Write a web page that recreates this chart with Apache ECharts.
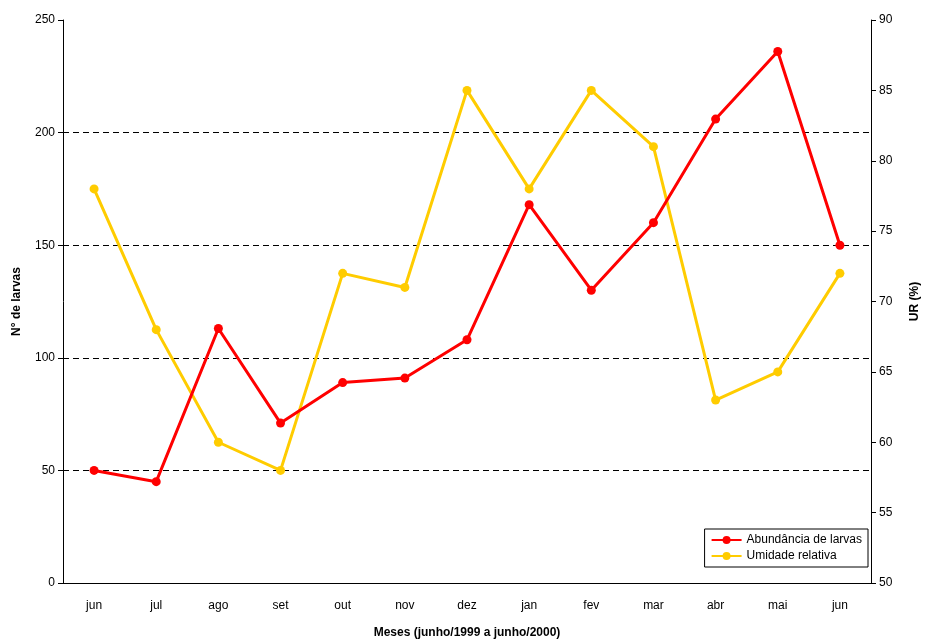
<!DOCTYPE html>
<html><head><meta charset="utf-8">
<script src="https://cdn.jsdelivr.net/npm/echarts@6/dist/echarts.min.js"></script>
<style>html,body{margin:0;padding:0;background:#fff}#c{width:927px;height:641px}</style>
</head><body><div id="c"></div>
<script>
// meses de junho/1999 a junho/2000
var meses = ['jun','jul','ago','set','out','nov','dez','jan','fev','mar','abr','mai','jun'];
var larvas = [50, 45, 113, 71, 89, 91, 108, 168, 130, 160, 206, 236, 150];
var umidade = [78, 68, 60, 58, 72, 71, 85, 78, 85, 81, 63, 65, 72];

var fonte = 'Arial, "Liberation Sans", sans-serif';
var chart = echarts.init(document.getElementById('c'));
chart.setOption({
    animation: false,
    textStyle: {fontFamily: fonte},
    grid: {left: 63, right: 56, top: 20, bottom: 58, outerBoundsMode: 'none'},
    legend: {
        orient: 'vertical', right: 59, bottom: 74, itemGap: 4,
        backgroundColor: '#fff', borderColor: '#000', borderWidth: 1, padding: [5, 6],
        itemWidth: 30, itemHeight: 10,
        textStyle: {fontSize: 12, color: '#000', fontFamily: fonte},
        data: ['Abundância de larvas', 'Umidade relativa']
    },
    xAxis: {
        type: 'category', data: meses, boundaryGap: true,
        name: 'Meses (junho/1999 a junho/2000)', nameLocation: 'middle', nameGap: 44,
        nameTextStyle: {fontWeight: 'bold', fontSize: 12, color: '#000'},
        axisLine: {lineStyle: {color: '#000'}},
        axisTick: {lineStyle: {color: '#000'}, length: 5},
        axisLabel: {color: '#000', fontSize: 12, margin: 17}
    },
    yAxis: [{
        type: 'value', min: 0, max: 250, interval: 50,
        name: 'N° de larvas', nameLocation: 'middle', nameGap: 40, nameRotate: 90,
        nameTextStyle: {fontWeight: 'bold', fontSize: 12, color: '#000'},
        axisLine: {show: true, lineStyle: {color: '#000'}},
        axisTick: {show: true, inside: false, length: 5, lineStyle: {color: '#000'}},
        axisLabel: {color: '#000', fontSize: 12},
        splitLine: {show: true, lineStyle: {color: ['#000', '#000', '#000', '#000', '#000', 'transparent'], type: [6, 4], width: 1}}
    }, {
        type: 'value', min: 50, max: 90, interval: 5, position: 'right',
        name: 'UR (%)', nameLocation: 'middle', nameGap: 38, nameRotate: 90,
        nameTextStyle: {fontWeight: 'bold', fontSize: 12, color: '#000'},
        axisLine: {show: true, lineStyle: {color: '#000'}},
        axisTick: {show: true, length: 5, lineStyle: {color: '#000'}},
        axisLabel: {color: '#000', fontSize: 12},
        splitLine: {show: false}
    }],
    series: [{
        name: 'Umidade relativa', type: 'line', yAxisIndex: 1, data: umidade,
        symbol: 'circle', symbolSize: 9,
        lineStyle: {color: '#FFCC00', width: 3}, itemStyle: {color: '#FFCC00'}
    }, {
        name: 'Abundância de larvas', type: 'line', yAxisIndex: 0, data: larvas,
        symbol: 'circle', symbolSize: 9,
        lineStyle: {color: '#FF0000', width: 3}, itemStyle: {color: '#FF0000'}
    }]
});
</script></body></html>
